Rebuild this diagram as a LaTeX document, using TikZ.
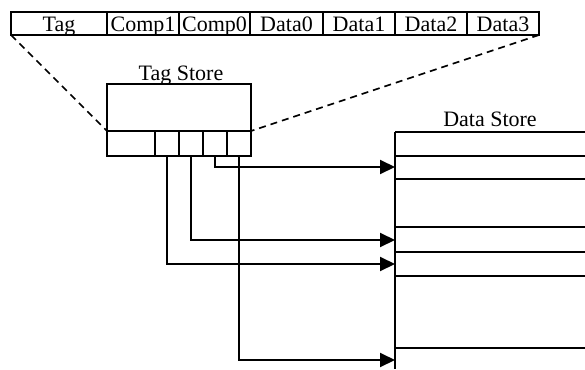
\documentclass[tikz,border=0pt]{standalone}
\usepackage{fontspec}
\setmainfont{Liberation Serif}
\usetikzlibrary{arrows.meta}
\begin{document}
\begin{tikzpicture}[x=1pt,y=-1pt,
  line width=2pt,
  cell/.style={draw,rectangle,inner sep=0pt,outer sep=0pt,anchor=north west,
    minimum height=23pt,text height=20pt,text depth=3pt,font=\fontsize{22}{24}\selectfont},
  tcell/.style={draw,rectangle,inner sep=0pt,outer sep=0pt,anchor=north west,minimum height=25pt},
  lbl/.style={font=\fontsize{22}{24}\selectfont,inner sep=0pt,anchor=base},
  zoomline/.style={line width=1.6pt,dash pattern=on 7pt off 5pt},
  ptr/.style={line width=2pt,-{Triangle[length=15pt,width=14pt]}},
  store/.style={line width=2pt,line cap=butt}]
\useasboundingbox (0,0) rectangle (585,369);
% address fields
\node[cell,minimum width=96pt] (f0) at (11,12) {Tag};
\node[cell,minimum width=72pt] (f1) at (107,12) {Comp1};
\node[cell,minimum width=71pt] (f2) at (179,12) {Comp0};
\node[cell,minimum width=73pt] (f3) at (250,12) {Data0};
\node[cell,minimum width=72pt] (f4) at (323,12) {Data1};
\node[cell,minimum width=72pt] (f5) at (395,12) {Data2};
\node[cell,minimum width=72pt] (f6) at (467,12) {Data3};
% tag store
\node[draw,rectangle,inner sep=0pt,outer sep=0pt,anchor=north west,
  minimum width=144pt,minimum height=47pt] (ts) at (107,84) {};
\node[lbl] at (181,80) {Tag Store};
\node[tcell,minimum width=48pt] (s0) at (107,131) {};
\node[tcell,minimum width=24pt] (s1) at (155,131) {};
\node[tcell,minimum width=24pt] (s2) at (179,131) {};
\node[tcell,minimum width=24pt] (s3) at (203,131) {};
\node[tcell,minimum width=24pt] (s4) at (227,131) {};
% zoom lines
\draw[zoomline] (f0.south west) -- (ts.south west);
\draw[zoomline] (f6.south east) -- (ts.south east);
% data store
\node[lbl] at (490,126) {Data Store};
\draw[store] (395,132) -- (395,369);
\foreach \yy in {132,156,179,227,252,276,348}
  \draw[store] (395,\yy) -- (585,\yy);
\coordinate (d1) at (395,167);
\coordinate (d2) at (395,240);
\coordinate (d3) at (395,264);
\coordinate (d4) at (395,360);
% pointers
\draw[ptr] (s3.south) |- (d1);
\draw[ptr] (s2.south) |- (d2);
\draw[ptr] (s1.south) |- (d3);
\draw[ptr] (s4.south) |- (d4);
\end{tikzpicture}
\end{document}
